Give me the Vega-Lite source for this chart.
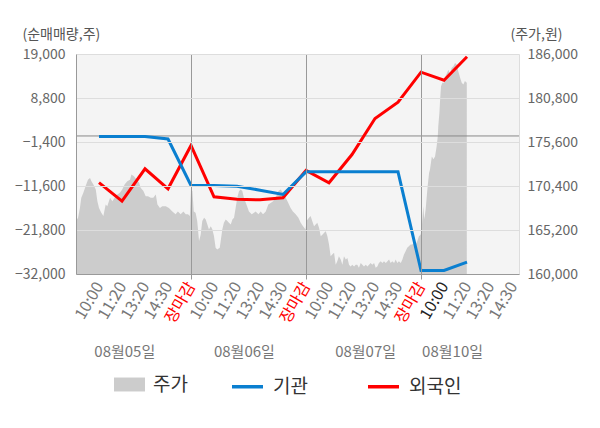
{
"$schema":"https://vega.github.io/schema/vega-lite/v6.json",
"autosize":{"type":"none"},
"padding":{"left":76,"top":54,"right":81,"bottom":154},
"width":443,"height":220,
"background":"white",
"config":{"font":"Noto Sans CJK KR","view":{"fill":"#f4f4f4","stroke":null}},
"datasets":{
"price":[
{"s":0,"p":166250},{"s":0.09,"p":166650},{"s":0.17,"p":167800},{"s":0.23,"p":169000},{"s":0.32,"p":169600},{"s":0.42,"p":170400},{"s":0.52,"p":171150},{"s":0.61,"p":171350},{"s":0.67,"p":170950},{"s":0.75,"p":170600},{"s":0.86,"p":170000},{"s":0.93,"p":168600},{"s":1.00,"p":167800},{"s":1.10,"p":167250},{"s":1.19,"p":166850},{"s":1.29,"p":168200},{"s":1.36,"p":168000},{"s":1.48,"p":169000},{"s":1.58,"p":168600},{"s":1.68,"p":169000},{"s":1.80,"p":169400},{"s":1.91,"p":169600},{"s":2.01,"p":170000},{"s":2.12,"p":170600},{"s":2.23,"p":170950},{"s":2.35,"p":171150},{"s":2.41,"p":171750},{"s":2.52,"p":171550},{"s":2.64,"p":171150},{"s":2.74,"p":170800},{"s":2.81,"p":170200},{"s":2.93,"p":169800},{"s":3.03,"p":169200},{"s":3.13,"p":169200},{"s":3.25,"p":169000},{"s":3.36,"p":169000},{"s":3.47,"p":169400},{"s":3.54,"p":168200},{"s":3.65,"p":167800},{"s":3.75,"p":168000},{"s":3.90,"p":168000},{"s":4.04,"p":167800},{"s":4.19,"p":167400},{"s":4.33,"p":167050},{"s":4.43,"p":167400},{"s":4.55,"p":167050},{"s":4.67,"p":167400},{"s":4.77,"p":167050},{"s":4.87,"p":167050},{"s":4.95,"p":166850},
{"s":5.00,"p":170000},{"s":5.06,"p":169800},{"s":5.12,"p":167400},{"s":5.20,"p":167250},{"s":5.27,"p":166250},{"s":5.35,"p":163900},{"s":5.42,"p":164650},{"s":5.49,"p":166250},{"s":5.57,"p":166650},{"s":5.64,"p":166450},{"s":5.71,"p":165850},{"s":5.78,"p":165250},{"s":5.86,"p":165650},{"s":5.93,"p":165250},{"s":6.00,"p":164450},{"s":6.07,"p":163100},{"s":6.14,"p":162900},{"s":6.25,"p":163100},{"s":6.32,"p":164450},{"s":6.36,"p":165250},{"s":6.43,"p":166050},{"s":6.51,"p":166450},{"s":6.58,"p":166250},{"s":6.65,"p":166050},{"s":6.73,"p":165850},{"s":6.80,"p":166450},{"s":6.87,"p":166650},{"s":6.94,"p":167800},{"s":7.01,"p":169000},{"s":7.09,"p":169800},{"s":7.16,"p":170000},{"s":7.23,"p":169800},{"s":7.30,"p":169000},{"s":7.41,"p":168200},{"s":7.52,"p":167400},{"s":7.64,"p":167050},{"s":7.74,"p":167250},{"s":7.81,"p":167400},{"s":7.93,"p":167050},{"s":8.03,"p":167400},{"s":8.13,"p":167050},{"s":8.25,"p":167400},{"s":8.36,"p":168200},{"s":8.46,"p":168400},{"s":8.57,"p":168600},{"s":8.68,"p":169000},{"s":8.80,"p":169800},{"s":8.90,"p":170000},{"s":9.00,"p":169600},{"s":9.12,"p":169000},{"s":9.23,"p":168400},{"s":9.33,"p":167800},{"s":9.43,"p":167400},{"s":9.55,"p":167050},{"s":9.67,"p":166650},{"s":9.77,"p":166050},{"s":9.87,"p":165650},{"s":9.98,"p":165250},
{"s":10.02,"p":166250},{"s":10.13,"p":166650},{"s":10.20,"p":166850},{"s":10.27,"p":166250},{"s":10.35,"p":165650},{"s":10.42,"p":165850},{"s":10.49,"p":166050},{"s":10.57,"p":165450},{"s":10.64,"p":164450},{"s":10.71,"p":164650},{"s":10.78,"p":164850},{"s":10.86,"p":165050},{"s":10.93,"p":164450},{"s":11.00,"p":163500},{"s":11.07,"p":162100},{"s":11.14,"p":162300},{"s":11.22,"p":162500},{"s":11.29,"p":161100},{"s":11.36,"p":161500},{"s":11.43,"p":162100},{"s":11.51,"p":161700},{"s":11.58,"p":161100},{"s":11.65,"p":162100},{"s":11.73,"p":161700},{"s":11.80,"p":161900},{"s":11.87,"p":161100},{"s":11.94,"p":160900},{"s":12.01,"p":161100},{"s":12.09,"p":160900},{"s":12.16,"p":161100},{"s":12.23,"p":161100},{"s":12.30,"p":160750},{"s":12.38,"p":161300},{"s":12.45,"p":161100},{"s":12.52,"p":160900},{"s":12.60,"p":161100},{"s":12.67,"p":160900},{"s":12.74,"p":161100},{"s":12.81,"p":161300},{"s":12.88,"p":161100},{"s":12.96,"p":161300},{"s":13.03,"p":160750},{"s":13.10,"p":160900},{"s":13.17,"p":161300},{"s":13.25,"p":161500},{"s":13.32,"p":161300},{"s":13.39,"p":161500},{"s":13.47,"p":161300},{"s":13.54,"p":161500},{"s":13.61,"p":161700},{"s":13.68,"p":161300},{"s":13.75,"p":161500},{"s":13.83,"p":161300},{"s":13.90,"p":161700},{"s":13.97,"p":161300},{"s":14.04,"p":161500},{"s":14.12,"p":161300},{"s":14.19,"p":161700},{"s":14.26,"p":162300},{"s":14.33,"p":162700},{"s":14.40,"p":163100},{"s":14.48,"p":163300},{"s":14.55,"p":163500},{"s":14.62,"p":163500},{"s":14.70,"p":163700},{"s":14.77,"p":163500},{"s":14.84,"p":163900},{"s":14.91,"p":164450},{"s":14.98,"p":164650},
{"s":15.02,"p":165050},{"s":15.10,"p":168000},{"s":15.14,"p":166450},{"s":15.20,"p":167600},{"s":15.25,"p":169200},{"s":15.29,"p":170400},{"s":15.35,"p":171950},{"s":15.39,"p":172350},{"s":15.47,"p":173900},{"s":15.54,"p":173550},{"s":15.61,"p":173900},{"s":15.68,"p":175100},{"s":15.73,"p":176300},{"s":15.75,"p":177450},{"s":15.80,"p":179050},{"s":15.83,"p":180600},{"s":15.87,"p":182200},{"s":15.93,"p":182600},{"s":16.00,"p":182600},{"s":16.07,"p":183400},{"s":16.14,"p":183800},{"s":16.19,"p":184150},{"s":16.26,"p":183600},{"s":16.33,"p":184350},{"s":16.41,"p":184550},{"s":16.48,"p":184950},{"s":16.55,"p":184750},{"s":16.62,"p":183950},{"s":16.70,"p":183200},{"s":16.77,"p":182600},{"s":16.84,"p":182400},{"s":16.91,"p":182800},{"s":16.99,"p":182600}
],
"flows":[
{"s":1,"series":"외국인","v":-10800},{"s":2,"series":"외국인","v":-15120},{"s":3,"series":"외국인","v":-7610},{"s":4,"series":"외국인","v":-12250},{"s":5,"series":"외국인","v":-2210},{"s":6,"series":"외국인","v":-14100},{"s":7,"series":"외국인","v":-14660},{"s":8,"series":"외국인","v":-14800},{"s":9,"series":"외국인","v":-14340},{"s":10,"series":"외국인","v":-8000},{"s":11,"series":"외국인","v":-10860},{"s":12,"series":"외국인","v":-4300},{"s":13,"series":"외국인","v":4050},{"s":14,"series":"외국인","v":7830},{"s":15,"series":"외국인","v":14780},{"s":16,"series":"외국인","v":12930},{"s":17,"series":"외국인","v":18350},
{"s":1,"series":"기관","v":-100},{"s":2,"series":"기관","v":-100},{"s":3,"series":"기관","v":-100},{"s":4,"series":"기관","v":-700},{"s":5,"series":"기관","v":-11480},{"s":6,"series":"기관","v":-11480},{"s":7,"series":"기관","v":-11640},{"s":8,"series":"기관","v":-12570},{"s":9,"series":"기관","v":-13570},{"s":10,"series":"기관","v":-8310},{"s":11,"series":"기관","v":-8310},{"s":12,"series":"기관","v":-8310},{"s":13,"series":"기관","v":-8310},{"s":14,"series":"기관","v":-8310},{"s":15,"series":"기관","v":-31190},{"s":16,"series":"기관","v":-31190},{"s":17,"series":"기관","v":-29265}
],
"zero":[{"v":0}]
},
"layer":[
{
"data":{"name":"price"},
"mark":{"type":"area","opacity":1},
"encoding":{
"x":{"field":"s","type":"quantitative","scale":{"domain":[0,19.26],"nice":false,"zero":false},
"axis":{"orient":"bottom","title":null,"values":[1,2,3,4,5,6,7,8,9,10,11,12,13,14,15,16,17,18,19],
"labelExpr":"['10:00','11:20','13:20','14:30','장마감'][(datum.value - 1) % 5]",
"labelAngle":-60,"labelFontSize":16,"labelPadding":4,"labelBound":false,"labelOverlap":false,
"labelColor":{"condition":[{"test":"datum.value % 5 == 0","value":"#ff0000"},{"test":"datum.value == 16","value":"#222222"}],"value":"#777777"},
"grid":true,"gridColor":{"condition":{"test":"datum.value % 5 == 0","value":"#999999"},"value":"transparent"},
"ticks":true,"tickSize":5,"tickColor":{"condition":{"test":"datum.value % 5 == 0","value":"#999999"},"value":"transparent"},
"domainColor":"#999999","zindex":1}},
"y":{"field":"p","type":"quantitative","scale":{"domain":[160000,186000],"nice":false,"zero":false},
"axis":{"orient":"right","title":"(주가,원)","values":[160000,165200,170400,175600,180800,186000],
"labelExpr":"format(datum.value, ',')",
"grid":false,"ticks":false,"labelPadding":8,"labelFontSize":14,"labelColor":"#666666","domainColor":"#dddddd",
"titleAngle":0,"titleX":-9,"titleY":-20,"titleAlign":"left","titleBaseline":"middle","titleFontSize":14,"titleFontWeight":"normal","titleColor":"#555555"}},
"y2":{"datum":160000},
"color":{"datum":"주가","type":"nominal","scale":{"domain":["주가"],"range":["#cccccc"]},
"legend":{"orient":"none","legendX":38,"legendY":315,"title":null,"symbolType":"M-1,-0.45H1V0.45H-1Z","symbolSize":961,"symbolStrokeWidth":0,"symbolOpacity":1,
"labelFontSize":19,"labelColor":"#333333","labelOffset":8,"padding":0}}
}
},
{
"layer":[
{
"data":{"name":"zero"},
"mark":{"type":"rule","color":"#888888","strokeWidth":1},
"encoding":{"y":{"field":"v","type":"quantitative","axis":{"title":"(순매매량,주)"}}}
},
{
"data":{"name":"flows"},
"mark":{"type":"line","strokeWidth":3},
"encoding":{
"x":{"field":"s","type":"quantitative",
"axis":{"orient":"bottom","title":null,"values":[2.1,7.3,12.57,16.35],
"labelExpr":"datum.value < 5 ? '08월05일' : datum.value < 10 ? '08월06일' : datum.value < 15 ? '08월07일' : '08월10일'",
"labelAngle":0,"offset":70,"domain":false,"ticks":false,"grid":false,"labelFontSize":15,"labelColor":"#777777","labelPadding":0,"labelBaseline":"top","labelAlign":"center"}},
"y":{"field":"v","type":"quantitative","scale":{"domain":[-32000,19000],"nice":false,"zero":false},
"axis":{"orient":"left","title":"(순매매량,주)","values":[19000,8800,-1400,-11600,-21800,-32000],
"labelExpr":"format(datum.value, ',')",
"grid":true,"gridColor":"#dddddd",
"ticks":false,"labelPadding":11,"labelFontSize":14,"labelColor":"#666666","domainColor":"#999999","zindex":1,
"titleAngle":0,"titleX":-54,"titleY":-20,"titleAlign":"left","titleBaseline":"middle","titleFontSize":14,"titleFontWeight":"normal","titleColor":"#555555"}},
"color":{"field":"series","type":"nominal",
"scale":{"domain":["기관","외국인"],"range":["#0a7fd0","#ff0000"]},
"legend":{"orient":"none","legendX":154,"legendY":315,"direction":"horizontal","title":null,
"symbolType":"stroke","symbolSize":961,"symbolStrokeWidth":3.5,"labelFontSize":19,"labelColor":"#333333",
"labelOffset":8,"columnPadding":53,"padding":0}}
}
}
]
}
],
"resolve":{"scale":{"y":"independent","color":"independent"},"axis":{"x":"independent"}}
}
